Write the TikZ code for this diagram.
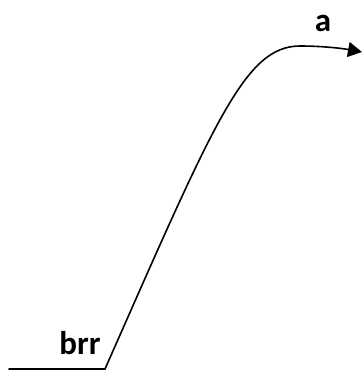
\documentclass[tikz,border=0pt]{standalone}
\usepackage{fontspec}
\setmainfont{Carlito}
\usetikzlibrary{arrows.meta}
\begin{document}
\begin{tikzpicture}[x=1pt,y=1pt,
  lbl/.style={font=\fontsize{33}{36}\selectfont\bfseries, inner sep=0pt, anchor=base},
  curve/.style={line width=1.6pt, line cap=round}]
\useasboundingbox (0,0) rectangle (362,-372);
\coordinate (l0) at (9,-369);
\coordinate (l1) at (105,-369);
\coordinate (pk) at (300,-46);
\coordinate (tip) at (362,-52);
\node[lbl] (brr) at (80,-354) {brr};
\node[lbl] (a) at (323,-31) {a};
\draw[curve] (l0) -- (l1);
\draw[curve] (l1) .. controls (215,-120) and (245,-46) .. (pk);
\draw[curve, -{Triangle[length=14pt,width=15pt]}] (pk) .. controls (320,-46) and (340,-48) .. (tip);
\end{tikzpicture}
\end{document}
